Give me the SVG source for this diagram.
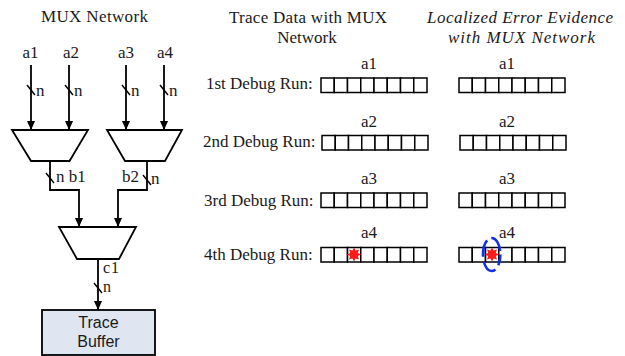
<svg xmlns="http://www.w3.org/2000/svg" width="625" height="356" viewBox="0 0 625 356">
  <style>
    .t { font-family: "Liberation Serif", "Times New Roman", serif; font-size: 17px; fill: #1a1a1a; }
    .tc { font-family: "Liberation Serif", "Times New Roman", serif; font-size: 16px; fill: #1a1a1a; }
    .ti { font-family: "Liberation Serif", "Times New Roman", serif; font-size: 17px; font-style: italic; fill: #1a1a1a; }
    .s { font-family: "Liberation Sans", Arial, sans-serif; font-size: 16px; fill: #1a1a1a; }
    .mux { fill: #fff; stroke: #000; stroke-width: 1.8; }
    .arr { fill: none; stroke: #000; stroke-width: 1.8; marker-end: url(#ah); }
    .slash { stroke: #000; stroke-width: 1.4; }
    .cell { fill: #fff; stroke: #000; stroke-width: 1.5; }
    .star { fill: #ff1a1a; }
  </style>
  <defs>
    <marker id="ah" viewBox="0 0 10 10" refX="10" refY="5" markerWidth="10" markerHeight="9" markerUnits="userSpaceOnUse" orient="auto">
      <path d="M0,0.5 L10,5 L0,9.5 z" fill="#000"/>
    </marker>
    <!-- one register row: 8 cells, 13.25 wide -->
    <g id="row">
      <rect class="cell" x="0" y="0" width="13.25" height="14.5"/>
      <rect class="cell" x="13.25" y="0" width="13.25" height="14.5"/>
      <rect class="cell" x="26.5" y="0" width="13.25" height="14.5"/>
      <rect class="cell" x="39.75" y="0" width="13.25" height="14.5"/>
      <rect class="cell" x="53" y="0" width="13.25" height="14.5"/>
      <rect class="cell" x="66.25" y="0" width="13.25" height="14.5"/>
      <rect class="cell" x="79.5" y="0" width="13.25" height="14.5"/>
      <rect class="cell" x="92.75" y="0" width="13.25" height="14.5"/>
    </g>
    <polygon id="burst" class="star" points="0,-7 1.6,-3.9 4.9,-4.9 3.9,-1.6 7,0 3.9,1.6 4.9,4.9 1.6,3.9 0,7 -1.6,3.9 -4.9,4.9 -3.9,1.6 -7,0 -3.9,-1.6 -4.9,-4.9 -1.6,-3.9"/>
  </defs>

  <rect width="625" height="356" fill="#fff"/>

  <!-- column headings -->
  <text class="t" x="94.5" y="22" text-anchor="middle" textLength="107" lengthAdjust="spacing">MUX Network</text>
  <text class="t" x="308" y="23" text-anchor="middle" textLength="158" lengthAdjust="spacing">Trace Data with MUX</text>
  <text class="t" x="307" y="43" text-anchor="middle">Network</text>
  <text class="ti" x="520" y="23" text-anchor="middle" textLength="186" lengthAdjust="spacing">Localized Error Evidence</text>
  <text class="ti" x="521.5" y="43" text-anchor="middle" textLength="147" lengthAdjust="spacing">with MUX Network</text>

  <!-- connectors -->
  <g id="connectors">
    <line class="arr" x1="31" y1="65" x2="31" y2="130"/>
    <line class="arr" x1="69" y1="65" x2="69" y2="130"/>
    <line class="arr" x1="126" y1="65" x2="126" y2="130"/>
    <line class="arr" x1="164" y1="65" x2="164" y2="130"/>
    <path class="arr" d="M50,161 V190 H79 V227"/>
    <path class="arr" d="M147,161 V190 H118 V227"/>
    <line class="arr" x1="98" y1="259" x2="98" y2="310"/>
    <!-- bus-width slashes -->
    <line class="slash" x1="27" y1="85" x2="35" y2="95"/>
    <line class="slash" x1="65" y1="85" x2="73" y2="95"/>
    <line class="slash" x1="122" y1="85" x2="130" y2="95"/>
    <line class="slash" x1="160" y1="85" x2="168" y2="95"/>
    <line class="slash" x1="46" y1="173" x2="54" y2="183"/>
    <line class="slash" x1="143" y1="175" x2="151" y2="185"/>
    <line class="slash" x1="94" y1="283" x2="102" y2="293"/>
    <text class="t" x="36" y="96">n</text>
    <text class="t" x="74" y="96">n</text>
    <text class="t" x="131" y="96">n</text>
    <text class="t" x="169" y="96">n</text>
    <text class="t" x="56" y="182">n b1</text>
    <text class="t" x="122" y="182">b2</text>
    <text class="t" x="151" y="184">n</text>
    <text class="tc" x="103" y="273" letter-spacing="1">c1</text>
    <text class="tc" x="103" y="292">n</text>
  </g>

  <!-- input signals -->
  <g id="inputs">
    <text class="t" x="30.5" y="58" text-anchor="middle">a1</text>
    <text class="t" x="71" y="58" text-anchor="middle">a2</text>
    <text class="t" x="126" y="58" text-anchor="middle">a3</text>
    <text class="t" x="165" y="58" text-anchor="middle">a4</text>
  </g>

  <g id="mux1"><polygon class="mux" points="12,130 88,130 69.5,161 31,161"/></g>
  <g id="mux2"><polygon class="mux" points="107,130 182,130 165,161 125,161"/></g>
  <g id="mux3"><polygon class="mux" points="59,227 136,227 119,259 77,259"/></g>

  <g id="trace-buffer">
    <rect x="42" y="310" width="113" height="45" fill="#dfe6f2" stroke="#000" stroke-width="1.8"/>
    <text class="s" x="98.5" y="328" text-anchor="middle">Trace</text>
    <text class="s" x="98.5" y="347" text-anchor="middle">Buffer</text>
  </g>

  <!-- debug run rows -->
  <g id="run1">
    <text class="t" x="206" y="89">1st Debug Run:</text>
    <text class="t" x="369" y="69" text-anchor="middle">a1</text>
    <use href="#row" x="321" y="78"/>
    <text class="t" x="507" y="69" text-anchor="middle">a1</text>
    <use href="#row" x="459" y="78"/>
  </g>
  <g id="run2">
    <text class="t" x="203" y="147">2nd Debug Run:</text>
    <text class="t" x="369" y="127" text-anchor="middle">a2</text>
    <use href="#row" x="322" y="135.5"/>
    <text class="t" x="507" y="127" text-anchor="middle">a2</text>
    <use href="#row" x="460" y="135.5"/>
  </g>
  <g id="run3">
    <text class="t" x="204" y="206">3rd Debug Run:</text>
    <text class="t" x="369" y="184" text-anchor="middle">a3</text>
    <use href="#row" x="321" y="193"/>
    <text class="t" x="507" y="184" text-anchor="middle">a3</text>
    <use href="#row" x="459" y="193"/>
  </g>
  <g id="run4">
    <text class="t" x="204" y="260">4th Debug Run:</text>
    <text class="t" x="369" y="238" text-anchor="middle">a4</text>
    <use href="#row" x="321" y="247.5"/>
    <use href="#burst" x="354" y="254.5"/>
    <text class="t" x="507" y="238" text-anchor="middle">a4</text>
    <use href="#row" x="459" y="247.5"/>
    <use href="#burst" x="492" y="254.5"/>
    <ellipse cx="491.7" cy="254.5" rx="8.7" ry="16.5" fill="none" stroke="#1030e8" stroke-width="2.6" stroke-dasharray="17 5" stroke-dashoffset="6"/>
  </g>
</svg>
